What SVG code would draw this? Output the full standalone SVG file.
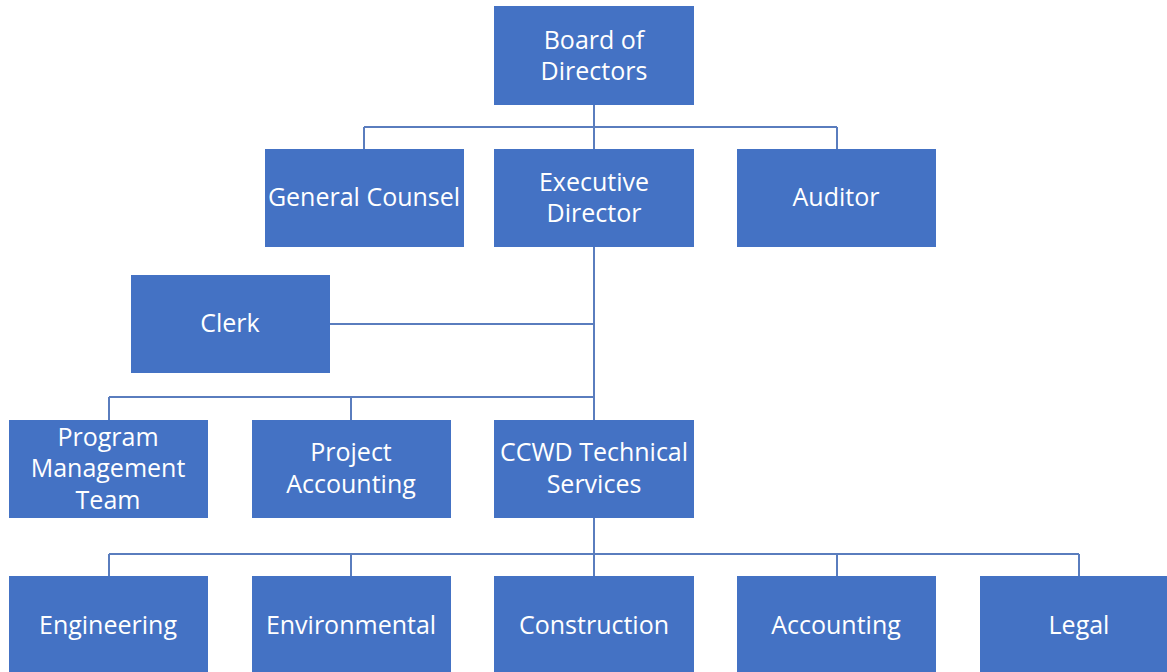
<svg xmlns="http://www.w3.org/2000/svg" width="1167" height="672" viewBox="0 0 1167 672">
<style>
.box{fill:#4472C4;}
.t{font-family:"Open Sans","Liberation Sans",sans-serif;font-size:25px;fill:#ffffff;text-anchor:middle;dominant-baseline:central;}
.c{stroke:#5A7DBE;stroke-width:2;fill:none;}
</style>
<rect width="1167" height="672" fill="#ffffff"/>
<g id="connectors" class="c">
<path d="M594,105 V149 M364,127 H837 M364,127 V149 M837,127 V149"/>
<path d="M594,247 V421 M330,324 H594 M109,397 H594 M109,397 V421 M351,397 V421"/>
<path d="M594,518 V576 M109,554 H1079 M109,554 V576 M351,554 V576 M837,554 V576 M1079,554 V576"/>
</g>
<g id="board"><rect class="box" x="494" y="6" width="200" height="99"/><text class="t" x="594" y="39">Board of</text><text class="t" x="594" y="70">Directors</text></g>
<g id="counsel"><rect class="box" x="265" y="149" width="199" height="98"/><text class="t" x="364" y="196">General Counsel</text></g>
<g id="exec"><rect class="box" x="494" y="149" width="200" height="98"/><text class="t" x="594" y="181">Executive</text><text class="t" x="594" y="212">Director</text></g>
<g id="auditor"><rect class="box" x="737" y="149" width="199" height="98"/><text class="t" x="836" y="196">Auditor</text></g>
<g id="clerk"><rect class="box" x="131" y="275" width="199" height="98"/><text class="t" x="230" y="322">Clerk</text></g>
<g id="pmt"><rect class="box" x="9" y="420" width="199" height="98"/><text class="t" x="108" y="436">Program</text><text class="t" x="108" y="467">Management</text><text class="t" x="108" y="499">Team</text></g>
<g id="projacct"><rect class="box" x="252" y="420" width="199" height="98"/><text class="t" x="351" y="451">Project</text><text class="t" x="351" y="483">Accounting</text></g>
<g id="ccwd"><rect class="box" x="494" y="420" width="200" height="98"/><text class="t" x="594" y="451">CCWD Technical</text><text class="t" x="594" y="483">Services</text></g>
<g id="engineering"><rect class="box" x="9" y="576" width="199" height="96"/><text class="t" x="108" y="624">Engineering</text></g>
<g id="environmental"><rect class="box" x="252" y="576" width="199" height="96"/><text class="t" x="351" y="624">Environmental</text></g>
<g id="construction"><rect class="box" x="494" y="576" width="200" height="96"/><text class="t" x="594" y="624">Construction</text></g>
<g id="accounting"><rect class="box" x="737" y="576" width="199" height="96"/><text class="t" x="836" y="624">Accounting</text></g>
<g id="legal"><rect class="box" x="980" y="576" width="187" height="96"/><text class="t" x="1079" y="624">Legal</text></g>
</svg>
